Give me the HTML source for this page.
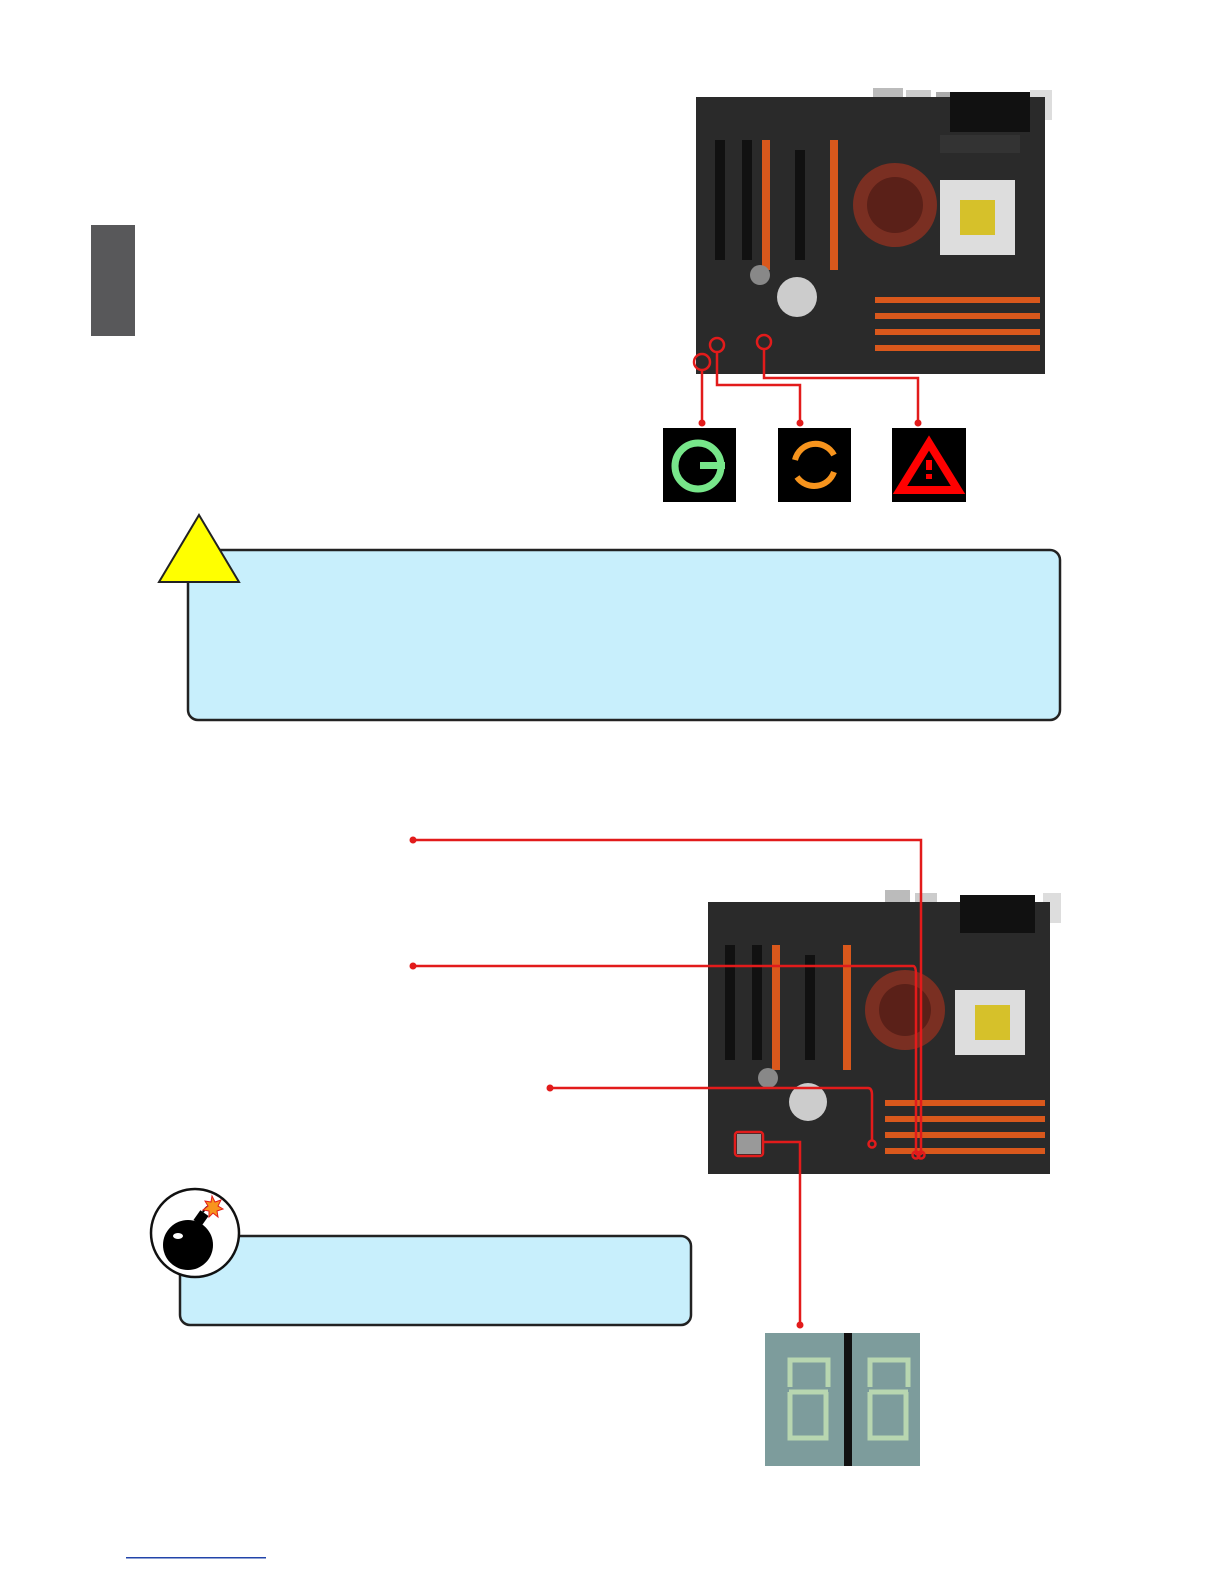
<!DOCTYPE html>
<html><head><style>body{margin:0;background:#fff}svg{display:block}</style></head><body>
<svg width="1224" height="1584" xmlns="http://www.w3.org/2000/svg">
<rect x="91" y="225" width="44" height="111" fill="#58585a"/>
<!-- top board -->
<g>
<rect x="873" y="88" width="30" height="25" fill="#bbb"/><rect x="906" y="90" width="25" height="25" fill="#ccc"/><rect x="936" y="92" width="18" height="20" fill="#aaa"/>
<rect x="1030" y="90" width="22" height="30" fill="#ddd"/>
<rect x="696" y="97" width="349" height="277" fill="#2a2a2a"/>
<rect x="950" y="92" width="80" height="40" fill="#111"/>
<rect x="940" y="135" width="80" height="18" fill="#333"/>
<rect x="762" y="140" width="8" height="130" fill="#d9581c"/><rect x="830" y="140" width="8" height="130" fill="#d9581c"/>
<rect x="715" y="140" width="10" height="120" fill="#111"/><rect x="742" y="140" width="10" height="120" fill="#111"/><rect x="795" y="150" width="10" height="110" fill="#111"/>
<circle cx="895" cy="205" r="42" fill="#7a2f22"/><circle cx="895" cy="205" r="28" fill="#5a2018"/>
<rect x="940" y="180" width="75" height="75" fill="#ddd"/><rect x="960" y="200" width="35" height="35" fill="#d6c12a"/>
<circle cx="797" cy="297" r="20" fill="#ccc"/><circle cx="760" cy="275" r="10" fill="#888"/>
<g fill="#d9581c"><rect x="875" y="297" width="165" height="6"/><rect x="875" y="313" width="165" height="6"/><rect x="875" y="329" width="165" height="6"/><rect x="875" y="345" width="165" height="6"/></g>
</g>
<g fill="none" stroke="#e21b1b" stroke-width="2.5">
<circle cx="702" cy="362" r="8"/><circle cx="717" cy="345" r="7"/><circle cx="764" cy="342" r="7"/>
<path d="M702 370V423M717 352V385H800V423M764 349V378H918V423"/>
</g>
<g fill="#e21b1b"><circle cx="702" cy="423" r="3.5"/><circle cx="800" cy="423" r="3.5"/><circle cx="918" cy="423" r="3.5"/></g>
<rect x="663" y="428" width="73" height="74" fill="#000"/>
<circle cx="698" cy="466" r="23" fill="none" stroke="#77e68a" stroke-width="7"/><rect x="700" y="462" width="25" height="7" fill="#77e68a"/>
<rect x="778" y="428" width="73" height="74" fill="#000"/>
<path d="M795 460A21 21 0 0 1 834 455M834 472A21 21 0 0 1 797 477" fill="none" stroke="#f7941d" stroke-width="6"/>
<rect x="892" y="428" width="74" height="74" fill="#000"/>
<path d="M929 443L958 490H900Z" fill="none" stroke="#f00" stroke-width="8" stroke-linejoin="miter"/>
<rect x="926" y="460" width="6" height="10" fill="#f00"/><rect x="926" y="474" width="6" height="5" fill="#f00"/>
<!-- warning box -->
<rect x="188" y="550" width="872" height="170" rx="10" fill="#c8effc" stroke="#222" stroke-width="2.5"/>
<path d="M199 515L239 582H159Z" fill="#ffff00" stroke="#222" stroke-width="2"/>
<!-- bottom board -->
<g>
<rect x="885" y="890" width="25" height="25" fill="#bbb"/><rect x="915" y="893" width="22" height="25" fill="#ccc"/>
<rect x="1043" y="893" width="18" height="30" fill="#ddd"/>
<rect x="708" y="902" width="342" height="272" fill="#2a2a2a"/>
<rect x="960" y="895" width="75" height="38" fill="#111"/>
<rect x="772" y="945" width="8" height="125" fill="#d9581c"/><rect x="843" y="945" width="8" height="125" fill="#d9581c"/>
<rect x="725" y="945" width="10" height="115" fill="#111"/><rect x="752" y="945" width="10" height="115" fill="#111"/><rect x="805" y="955" width="10" height="105" fill="#111"/>
<circle cx="905" cy="1010" r="40" fill="#7a2f22"/><circle cx="905" cy="1010" r="26" fill="#5a2018"/>
<rect x="955" y="990" width="70" height="65" fill="#ddd"/><rect x="975" y="1005" width="35" height="35" fill="#d6c12a"/>
<circle cx="808" cy="1102" r="19" fill="#ccc"/><circle cx="768" cy="1078" r="10" fill="#888"/>
<g fill="#d9581c"><rect x="885" y="1100" width="160" height="6"/><rect x="885" y="1116" width="160" height="6"/><rect x="885" y="1132" width="160" height="6"/><rect x="885" y="1148" width="160" height="6"/></g>
<rect x="737" y="1134" width="24" height="20" fill="#999"/>
</g>
<g fill="none" stroke="#e21b1b" stroke-width="2.5">
<path d="M413 840H921V1155M413 966H913Q916 966 916 975V1155M550 1088H868Q872 1088 872 1095V1140"/>
<rect x="735" y="1132" width="28" height="24" rx="3"/>
<path d="M763 1142H800V1325"/>
<circle cx="872" cy="1144" r="3.5"/><circle cx="916" cy="1155" r="3.5"/><circle cx="921" cy="1155" r="3.5"/>
</g>
<g fill="#e21b1b"><circle cx="413" cy="840" r="3.5"/><circle cx="413" cy="966" r="3.5"/><circle cx="550" cy="1088" r="3.5"/><circle cx="800" cy="1325" r="3.5"/></g>
<!-- 7 seg -->
<rect x="765" y="1333" width="155" height="133" fill="#7d9c9c"/>
<rect x="844" y="1333" width="8" height="133" fill="#111"/>
<g fill="none" stroke="#b8d6b0" stroke-width="5">
<path d="M790 1387V1360H828V1387M789 1392H828M790 1392V1438H826V1392"/>
<path d="M870 1387V1360H908V1387M869 1392H908M870 1392V1438H906V1392"/>
</g>
<!-- bomb box -->
<rect x="180" y="1236" width="511" height="89" rx="10" fill="#c8effc" stroke="#222" stroke-width="2.5"/>
<circle cx="195" cy="1233" r="44" fill="#fff" stroke="#111" stroke-width="2.5"/>
<circle cx="188" cy="1245" r="25" fill="#000"/>
<rect x="196" y="1212" width="10" height="12" fill="#000" transform="rotate(35 201 1218)"/>
<path d="M203 1212Q207 1205 210 1207" stroke="#000" stroke-width="2" fill="none"/>
<path d="M212 1196l3 6 6-2-3 6 5 3-6 2 1 6-5-4-4 4 0-6-6-1 5-4-3-5 6 1z" fill="#f7941d" stroke="#e21b1b"/>
<ellipse cx="178" cy="1236" rx="5" ry="3" fill="#fff"/>
<rect x="126" y="1557" width="140" height="1.5" fill="#2244aa"/>
</svg>
</body></html>
